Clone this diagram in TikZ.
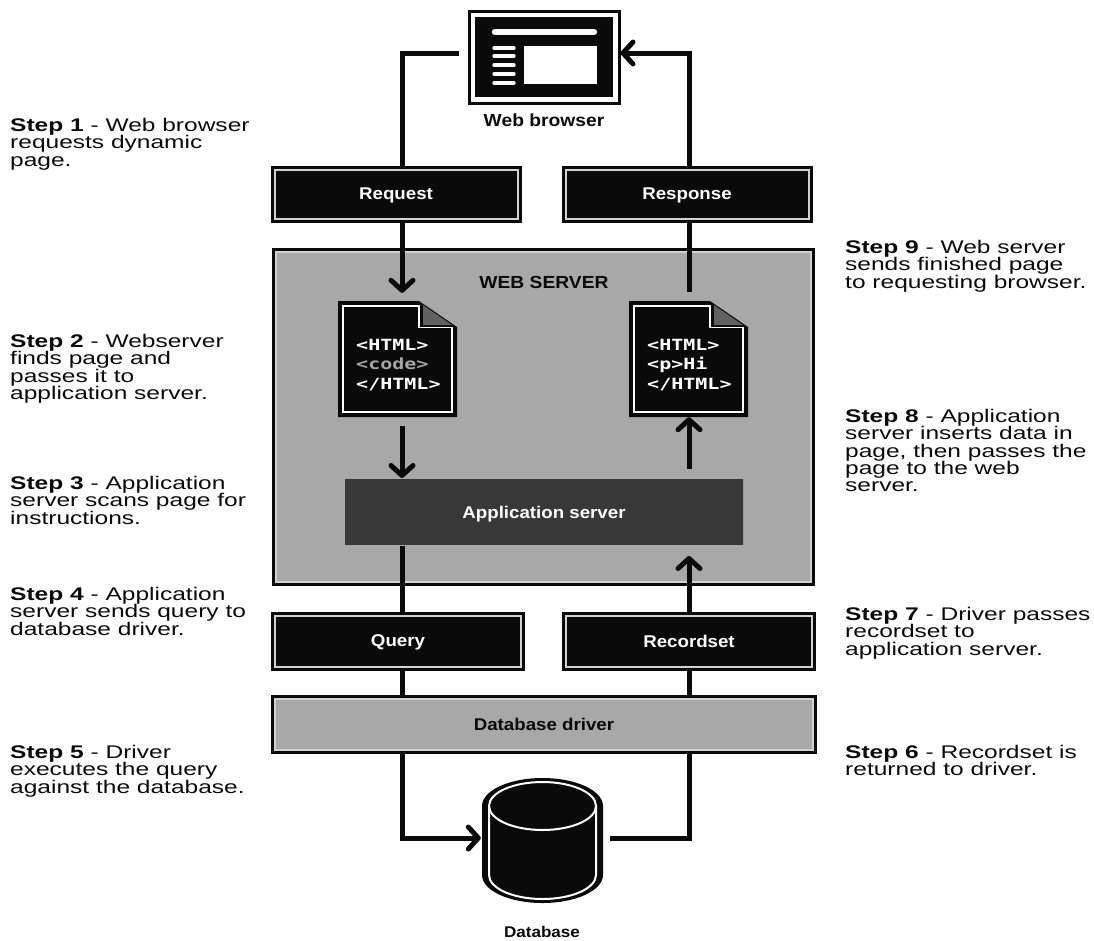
\documentclass[tikz,border=0pt]{standalone}
\usepackage{fontspec}
\usetikzlibrary{arrows.meta}
\setmainfont{Liberation Sans}
\newfontfamily\stepfont[FakeStretch=1.34]{Liberation Sans}
\newfontfamily\labfont[FakeStretch=1.1]{Liberation Sans}
\newfontfamily\codefont[FakeStretch=1.3]{DejaVu Sans Mono}
\definecolor{srvgray}{gray}{0.66}
\definecolor{appgray}{gray}{0.22}
\definecolor{bandgray}{gray}{0.82}
\definecolor{inkblack}{gray}{0.04}
\newcommand{\docshape}[2]{%
  \path[fill=inkblack] (#1,#2) -- ++(81,0) -- ++(38,26) -- ++(0,90) -- ++(-119,0) -- cycle;
  \path[fill=black!62] (#1+85,#2+4) -- ++(29,20) -- ++(-29,0) -- cycle;
  \draw[white,line width=1.8] (#1+5,#2+5) -- ++(76,0) -- ++(0,21.5) -- ++(33,0) -- ++(0,84.5) -- ++(-109,0) -- cycle;
}
\tikzset{
  x=1pt,y=-1pt,
  band/.style={path picture={\draw[#1,line width=7pt]
     (path picture bounding box.south west) rectangle (path picture bounding box.north east);}},
  wideband/.style={path picture={\draw[#1,line width=12pt]
     (path picture bounding box.south west) rectangle (path picture bounding box.north east);}},
  box/.style={draw=inkblack,line width=3pt,inner sep=0pt,align=center},
  darkbox/.style={box,fill=inkblack,band=bandgray,text=white,font=\labfont\bfseries\fontsize{17}{20}\selectfont,text depth=-1pt},
  graybox/.style={box,fill=srvgray,band=bandgray,text=inkblack,font=\labfont\bfseries\fontsize{17}{20}\selectfont,text depth=-1pt},
  caption/.style={inner sep=0pt,text=inkblack,font=\labfont\bfseries\fontsize{17.5}{20}\selectfont},
  steplabel/.style={anchor=north west,inner sep=0pt,align=left,text=inkblack,
     font=\stepfont\fontsize{18.3}{17.3}\selectfont},
  codetext/.style={anchor=north west,inner sep=0pt,align=left,text=white,
     font=\codefont\bfseries\fontsize{15.4}{19.3}\selectfont},
  link/.style={draw=inkblack,line width=5pt},
  arrowlink/.style={link,-{Straight Barb[length=10pt,width=22pt,round]}},
  spot/.style={inner sep=0pt,minimum width=#1},
}
\begin{document}
\begin{tikzpicture}
\useasboundingbox (0,0) rectangle (1094,940);
\coordinate (xL) at (402,0);
\coordinate (xR) at (689,0);

% boxes
\node[box,fill=srvgray,band=bandgray,minimum width=540,minimum height=335] (server) at (543,417) {};
\node[caption] (servertitle) at (544,282) {WEB SERVER};
\node[darkbox,minimum width=248,minimum height=54] (request) at (396,194) {Request};
\node[darkbox,minimum width=248,minimum height=54] (response) at (687,194) {Response};
\node[darkbox,fill=appgray,draw=none,band=appgray,minimum width=398,minimum height=65] (app) at (544,512) {Application server};
\node[darkbox,minimum width=251,minimum height=56] (query) at (398,641) {Query};
\node[darkbox,minimum width=251,minimum height=56] (recordset) at (689,641) {Recordset};
\node[graybox,minimum width=543,minimum height=56] (driver) at (544,724) {Database driver};

% browser
\node[box,fill=inkblack,wideband=white,minimum width=150,minimum height=92] (browser) at (544,57) {};
\draw[white,line width=6.5pt,line cap=round] (495,32) -- (594,32);
\foreach \yy in {48,56,65,74,83}{\draw[white,line width=3.2pt,line cap=round] (494,\yy) -- (514,\yy);}
\fill[white] (524,46) rectangle (597,84);
\node[caption] (browsertitle) at (544,120) {Web browser};

% documents
\docshape{338}{301}
\docshape{629}{301}
\node[codetext] (doca) at (356,339) {<HTML>\\{\color{black!35}<code>}\\</HTML>};
\node[codetext] (docb) at (647,339) {<HTML>\\<p>Hi\\</HTML>};
\node[spot=119,minimum height=116] (docl) at (397.5,359) {};
\node[spot=119,minimum height=116] (docr) at (688.5,359) {};

% database
\node[spot=121,minimum height=130] (db) at (542.5,838) {};
\path[fill=inkblack] (482,806) arc[start angle=180,end angle=360,x radius=60.5,y radius=28]
  -- (603,875) arc[start angle=0,end angle=180,x radius=60.5,y radius=28] -- cycle;
\draw[white,line width=2pt] (489,806) arc[start angle=180,end angle=360,x radius=53.5,y radius=24]
  -- (596,875) arc[start angle=0,end angle=180,x radius=53.5,y radius=24] -- cycle;
\draw[white,line width=2pt] (489,806) arc[start angle=180,end angle=0,x radius=53.5,y radius=24];
\node[caption,font=\labfont\bfseries\fontsize{15.5}{18}\selectfont] (dbtitle) at (542,932) {Database};

% connectors
\draw[link] (browser.west |- 0,53) ++(-9,0) -- (xL |- 0,53) -- (request.north -| xL);
\draw[arrowlink,shorten >=8pt] (request.south -| xL) -- (docl.north -| xL);
\draw[arrowlink] (docl.south -| xL) ++(0,9) -- (app.north -| xL);
\draw[link] (app.south -| xL) -- (query.north -| xL);
\draw[link] (query.south -| xL) -- (driver.north -| xL);
\draw[arrowlink,shorten >=1pt] (driver.south -| xL) -- (xL |- db.west) -- (db.west);
\draw[link] (db.east) ++(7,0) -- (xR |- db.east) -- (driver.south -| xR);
\draw[link] (driver.north -| xR) -- (recordset.south -| xR);
\draw[arrowlink] (recordset.north -| xR) -- (xR |- 0,556);
\draw[arrowlink] (app.north -| xR) ++(0,-9) -- (docr.south -| xR);
\draw[link] (docr.north -| xR) ++(0,-9) -- (response.south -| xR);
\draw[arrowlink] (response.north -| xR) -- (xR |- 0,53) -- (browser.east |- 0,53);

% step labels
\node[steplabel] (s1) at (10,118) {\textbf{Step 1} - Web browser\\requests dynamic\\page.};
\node[steplabel] (s2) at (10,334) {\textbf{Step 2} - Webserver\\finds page and\\passes it to\\application server.};
\node[steplabel] (s3) at (10,476) {\textbf{Step 3} - Application\\server scans page for\\instructions.};
\node[steplabel] (s4) at (10,587) {\textbf{Step 4} - Application\\server sends query to\\database driver.};
\node[steplabel] (s5) at (10,745) {\textbf{Step 5} - Driver\\executes the query\\against the database.};
\node[steplabel] (s9) at (845,240) {\textbf{Step 9} - Web server\\sends finished page\\to requesting browser.};
\node[steplabel] (s8) at (845,409) {\textbf{Step 8} - Application\\server inserts data in\\page, then passes the\\page to the web\\server.};
\node[steplabel] (s7) at (845,607) {\textbf{Step 7} - Driver passes\\recordset to\\application server.};
\node[steplabel] (s6) at (845,745) {\textbf{Step 6} - Recordset is\\returned to driver.};
\end{tikzpicture}
\end{document}
